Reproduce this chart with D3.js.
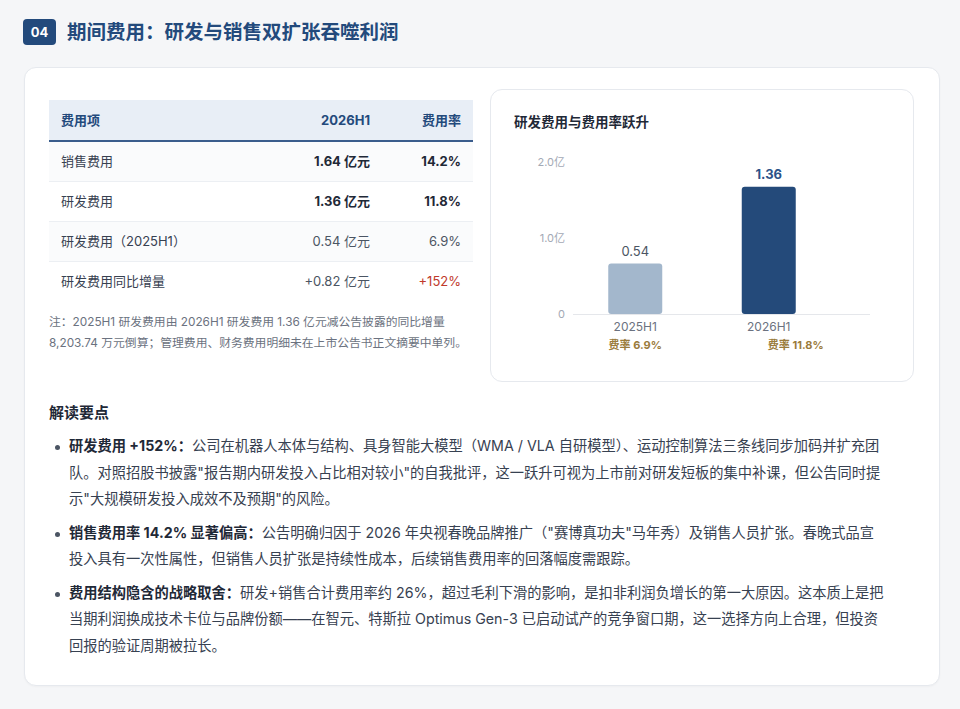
<!DOCTYPE html>
<html><head><meta charset="utf-8">
<script src="https://cdn.jsdelivr.net/npm/d3@7"></script>
<style>
html,body{margin:0;padding:0;}
body{width:960px;height:709px;background:#f5f6f8;position:relative;overflow:hidden;
 font-family:"Inter","Noto Sans CJK SC",sans-serif;color:#374151;}
.abs{position:absolute;}
#badge{left:23px;top:19px;width:33px;height:26px;border-radius:4px;background:#234a7c;color:#fff;
 font-size:13px;font-weight:700;line-height:26px;text-align:center;}
#title{left:67px;top:19px;height:26px;line-height:26px;font-size:19.5px;font-weight:700;color:#234a7c;white-space:nowrap;}
#card{left:24px;top:67px;width:914px;height:617px;background:#fff;border:1px solid #e6e9ee;border-radius:12px;
 box-shadow:0 1px 2px rgba(0,0,0,0.03);}
#tbl{left:49px;top:100px;width:424px;}
.row{position:absolute;left:0;width:424px;height:40px;font-size:13px;border-bottom:1px solid #eceff3;}
.row div{position:absolute;top:0;line-height:40px;white-space:nowrap;}
#note{left:49px;top:312px;font-size:11.8px;line-height:21px;color:#6b7280;white-space:nowrap;}
#chartcard{left:490px;top:89px;width:422px;height:291px;border:1px solid #e6e9ee;border-radius:12px;background:#fff;}
#chart{left:490px;top:89px;}
#head{left:49px;top:402px;font-size:15px;font-weight:700;color:#1f2937;line-height:22px;}
#bullets{left:49px;top:433px;width:880px;}
.bl{position:relative;margin-bottom:7px;}
.bl .dot{position:absolute;left:6px;top:12px;width:5px;height:5px;border-radius:50%;background:#4b5563;}
.bl .ln{padding-left:20px;font-size:14.25px;line-height:26.5px;white-space:nowrap;color:#374151;}
.bl b{color:#1f2937;font-weight:700;}
</style></head>
<body>
<div id="badge" class="abs">04</div>
<div id="title" class="abs">期间费用：研发与销售双扩张吞噬利润</div>
<div id="card" class="abs"></div>
<div id="tbl" class="abs"></div>
<div id="note" class="abs"></div>
<div id="chartcard" class="abs"></div>
<svg id="chart" class="abs" width="422" height="292"></svg>
<div id="head" class="abs">解读要点</div>
<div id="bullets" class="abs"></div>
<script>
// ---- table data ----
const tableHeader = ["费用项", "2026H1", "费用率"];
const tableItems = ["销售费用", "研发费用", "研发费用（2025H1）", "研发费用同比增量"];
const tableAmounts = ["1.64 亿元", "1.36 亿元", "0.54 亿元", "+0.82 亿元"];
const tableRates = ["14.2%", "11.8%", "6.9%", "+152%"];
const noteLines = [
  "注：2025H1 研发费用由 2026H1 研发费用 1.36 亿元减公告披露的同比增量",
  "8,203.74 万元倒算；管理费用、财务费用明细未在上市公告书正文摘要中单列。"
];
// ---- chart data ----
const chartTitle = "研发费用与费用率跃升";
const periods = ["2025H1", "2026H1"];
const rdValues = [0.54, 1.36];
const rdRates = ["费率 6.9%", "费率 11.8%"];
const yTicks = [0, 1.0, 2.0];
const yTickLabels = ["0", "1.0亿", "2.0亿"];
// ---- bullets ----
const bulletHeads = ["研发费用 +152%：", "销售费用率 14.2% 显著偏高：", "费用结构隐含的战略取舍："];
const bulletLines = [
  ["公司在机器人本体与结构、具身智能大模型（WMA / VLA 自研模型）、运动控制算法三条线同步加码并扩充团",
   "队。对照招股书披露\"报告期内研发投入占比相对较小\"的自我批评，这一跃升可视为上市前对研发短板的集中补课，但公告同时提",
   "示\"大规模研发投入成效不及预期\"的风险。"],
  ["公告明确归因于 2026 年央视春晚品牌推广（\"赛博真功夫\"马年秀）及销售人员扩张。春晚式品宣",
   "投入具有一次性属性，但销售人员扩张是持续性成本，后续销售费用率的回落幅度需跟踪。"],
  ["研发+销售合计费用率约 26%，超过毛利下滑的影响，是扣非利润负增长的第一大原因。这本质上是把",
   "当期利润换成技术卡位与品牌份额——在智元、特斯拉 Optimus Gen-3 已启动试产的竞争窗口期，这一选择方向上合理，但投资",
   "回报的验证周期被拉长。"]
];

// ---- table ----
const tbl = d3.select("#tbl");
const hdr = tbl.append("div").attr("class","row")
  .style("top","0px").style("height","40px").style("background","#e8eef6")
  .style("border-bottom","2px solid #3a5d8c");
const colStyle = [{left:"12px"},{right:"103px"},{right:"12px"}];
tableHeader.forEach((t,i)=>{
  const d = hdr.append("div").text(t).style("font-weight","700").style("color","#234a7c");
  Object.entries(colStyle[i]).forEach(([k,v])=>d.style(k,v));
});
tableItems.forEach((item,r)=>{
  const row = tbl.append("div").attr("class","row")
    .style("top",(42 + r*40)+"px").style("height","39px")
    .style("background", r%2===0 ? "#fafbfc" : "#fff")
    .style("border-bottom", r===tableItems.length-1 ? "none" : "1px solid #eceff3");
  const bold = r < 2;
  const cells = [item, tableAmounts[r], tableRates[r]];
  cells.forEach((t,i)=>{
    const d = row.append("div").text(t).style("line-height","39px");
    Object.entries(colStyle[i]).forEach(([k,v])=>d.style(k,v));
    if (i>0 && bold) d.style("font-weight","700").style("color","#1f2937");
    if (i===0) d.style("color","#374151");
    if (i>0 && !bold) d.style("color","#4b5563");
    if (i===2 && r===tableItems.length-1) d.style("color","#c0392b");
  });
});
d3.select("#note").selectAll("div").data(noteLines).join("div").text(d=>d);

// ---- chart ----
const svg = d3.select("#chart");
svg.append("text").attr("x",24).attr("y",38).text(chartTitle)
  .attr("font-size",13.5).attr("font-weight",700).attr("fill","#1f2937");
const base = 225; // baseline y within svg
const yBar = d3.scaleLinear().domain([0,1.6]).range([base, base-149.6]);
const yAxis = d3.scaleLinear().domain([0,2.0]).range([base, base-152]);
const x = d3.scaleBand().domain(periods).range([78.5, 345.5]).padding(0);
const barW = 54;
svg.append("line").attr("x1",83).attr("x2",380).attr("y1",base+0.5).attr("y2",base+0.5)
  .attr("stroke","#e5e7eb").attr("stroke-width",1);
svg.selectAll(".ytick").data(yTicks).join("text").attr("class","ytick")
  .attr("x",75).attr("y",d=>yAxis(d)).attr("dy","0.35em").attr("text-anchor","end")
  .attr("font-size",11).attr("fill","#a3a9b5").text((d,i)=>yTickLabels[i]);
const colors = ["#a3b7cc","#244a7a"];
svg.selectAll(".bar").data(rdValues).join("rect").attr("class","bar")
  .attr("x",(d,i)=>x(periods[i])+x.bandwidth()/2-barW/2).attr("width",barW)
  .attr("y",d=>yBar(d)).attr("height",d=>base-yBar(d))
  .attr("rx",3).attr("fill",(d,i)=>colors[i]);
svg.selectAll(".val").data(rdValues).join("text").attr("class","val")
  .attr("x",(d,i)=>x(periods[i])+x.bandwidth()/2).attr("y",d=>yBar(d)-8)
  .attr("text-anchor","middle").attr("font-size",13)
  .attr("font-weight",(d,i)=>i===1?700:400)
  .attr("fill",(d,i)=>i===1?"#2b5288":"#4b5563").text(d=>d.toFixed(2));
svg.selectAll(".xl").data(periods).join("text").attr("class","xl")
  .attr("x",d=>x(d)+x.bandwidth()/2).attr("y",base+13).attr("dy","0.35em")
  .attr("text-anchor","middle").attr("font-size",12).attr("fill","#6b7280").text(d=>d);
svg.selectAll(".rate").data(rdRates).join("text").attr("class","rate")
  .attr("x",(d,i)=>x(periods[i])+x.bandwidth()/2 + (i===1?27:0)).attr("y",base+31).attr("dy","0.35em")
  .attr("text-anchor","middle").attr("font-size",11).attr("font-weight",700)
  .attr("fill","#9a7b3c").text(d=>d);

// ---- bullets ----
const bl = d3.select("#bullets").selectAll(".bl").data(bulletLines).join("div").attr("class","bl");
bl.append("div").attr("class","dot");
bl.each(function(lines,bi){
  const el = d3.select(this);
  lines.forEach((t,li)=>{
    const ln = el.append("div").attr("class","ln");
    if (li===0) ln.append("b").text(bulletHeads[bi]);
    ln.append("span").text(t);
  });
});
</script>
</body></html>
